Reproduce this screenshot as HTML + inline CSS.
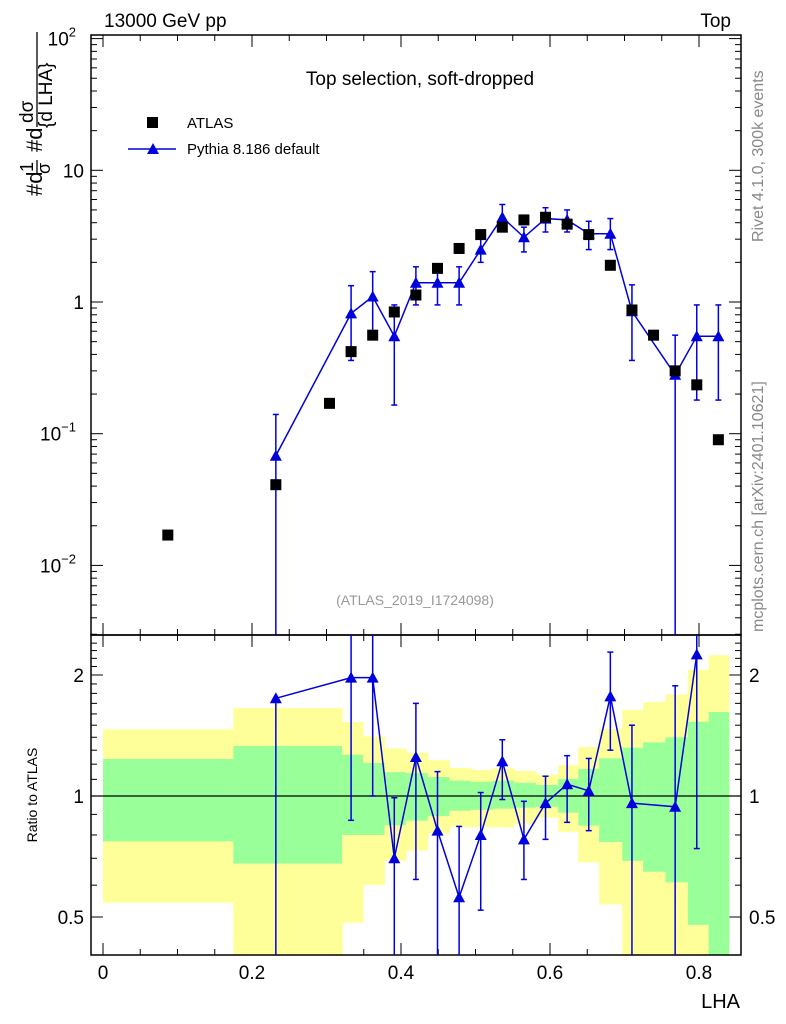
<!DOCTYPE html>
<html><head><meta charset="utf-8">
<style>
html,body{margin:0;padding:0;background:#fff;overflow:hidden;width:786px;height:1024px;}
svg{display:block;font-family:"Liberation Sans",sans-serif;}
</style></head>
<body>
<svg id="chart" width="786" height="1024" viewBox="0 0 786 1024" xmlns="http://www.w3.org/2000/svg">
<text x="104" y="27" font-size="19">13000 GeV pp</text>
<text x="731" y="27" font-size="19" text-anchor="end">Top</text>
<text x="420" y="85" font-size="19" text-anchor="middle">Top selection, soft-dropped</text>
<text x="415" y="605" font-size="14" fill="#999" text-anchor="middle">(ATLAS_2019_I1724098)</text>
<text transform="translate(763,242) rotate(-90)" font-size="16" fill="#888">Rivet 4.1.0,  300k events</text>
<text transform="translate(763,632) rotate(-90)" font-size="16" fill="#888">mcplots.cern.ch [arXiv:2401.10621]</text>
<g>
<text transform="translate(42,196) rotate(-90)" font-size="22">#d</text>
<text transform="translate(33,172) rotate(-90)" font-size="18">1</text>
<line x1="37" y1="173" x2="37" y2="160" stroke="#000" stroke-width="1.3"/>
<text transform="translate(50,174) rotate(-90)" font-size="18">σ</text>
<text transform="translate(42,152) rotate(-90)" font-size="22">#d</text>
<text transform="translate(33,123) rotate(-90)" font-size="19">dσ</text>
<line x1="37" y1="127" x2="37" y2="32" stroke="#000" stroke-width="1.3"/>
<text transform="translate(52,128) rotate(-90)" font-size="19">{d LHA}</text>
</g>
<text transform="translate(37,795) rotate(-90)" font-size="14" text-anchor="middle">Ratio to ATLAS</text>
<text x="740" y="1008" font-size="20" text-anchor="end">LHA</text>
<g>
<rect x="147" y="117" width="11" height="11" fill="#000"/>
<text x="187" y="128" font-size="15">ATLAS</text>
<line x1="128" y1="149" x2="176" y2="149" stroke="#00d" stroke-width="1.5"/>
<polygon points="147,154 159,154 153,143" fill="#00d"/>
<text x="187" y="154" font-size="15">Pythia 8.186 default</text>
</g>
<g id="g-main"></g>
<g id="g-ratio"></g>
</svg>
<script>
const atlasX=[0.087,0.232,0.304,0.333,0.362,0.391,0.42,0.449,0.478,0.507,0.536,0.565,0.594,0.623,0.652,0.681,0.71,0.739,0.768,0.797,0.826];
const atlasY=[0.017,0.041,0.17,0.42,0.56,0.84,1.13,1.8,2.55,3.25,3.7,4.2,4.4,3.9,3.25,1.9,0.87,0.56,0.3,0.235,0.09];
const pyX=[0.232,0.333,0.362,0.391,0.42,0.449,0.478,0.507,0.536,0.565,0.594,0.623,0.652,0.681,0.71,0.768,0.797,0.826];
const pyY=[0.068,0.82,1.1,0.55,1.4,1.4,1.4,2.5,4.4,3.1,4.3,4.2,3.3,3.3,0.85,0.28,0.55,0.55];
const pyLo=[0.001,0.36,0.55,0.165,0.95,0.95,0.95,2.0,3.6,2.4,3.4,3.4,2.5,2.5,0.36,0.001,0.18,0.18];
const pyHi=[0.14,1.33,1.7,0.95,1.85,1.85,1.85,3.0,5.5,3.7,5.2,5.0,4.1,4.3,1.35,0.56,0.95,0.95];
const rX=[0.232,0.333,0.362,0.391,0.42,0.449,0.478,0.507,0.536,0.565,0.594,0.623,0.652,0.681,0.71,0.768,0.797];
const rY=[1.75,1.97,1.97,0.7,1.25,0.82,0.56,0.8,1.22,0.78,0.96,1.07,1.03,1.77,0.96,0.94,2.25];
const rLo=[0.1,0.87,1.0,0.1,0.62,0.4,0.1,0.52,0.98,0.62,0.78,0.86,0.82,1.3,0.1,0.1,0.74];
const rHi=[1.75,3,3,0.99,1.7,1.15,0.84,1.02,1.38,0.97,1.12,1.26,1.24,2.28,1.5,1.88,3];
const bandEdges=[0,0.175,0.321,0.349,0.378,0.407,0.436,0.465,0.494,0.523,0.552,0.581,0.611,0.638,0.666,0.697,0.725,0.755,0.785,0.813,0.84];
const yelHi=[1.465,1.655,1.527,1.407,1.314,1.281,1.227,1.174,1.161,1.172,1.154,1.13,1.194,1.324,1.47,1.636,1.714,1.79,2.06,2.24];
const yelLo=[0.543,0.3,0.484,0.601,0.69,0.731,0.806,0.837,0.837,0.835,0.853,0.883,0.815,0.684,0.537,0.3,0.3,0.3,0.3,0.3];
const grnHi=[1.236,1.332,1.267,1.208,1.146,1.14,1.115,1.092,1.085,1.092,1.079,1.065,1.102,1.167,1.241,1.319,1.36,1.4,1.53,1.617];
const grnLo=[0.771,0.679,0.8,0.8,0.846,0.868,0.892,0.919,0.924,0.93,0.935,0.94,0.909,0.844,0.768,0.69,0.648,0.61,0.478,0.3];
const xTicks=[0,0.2,0.4,0.6,0.8];

const L=91,R=741,T1=35,B1=635,T2=635,B2=955;
const sx=v=>103+745*v;
const sy=v=>302-131.7*Math.log10(v);
const sr=v=>796-402*Math.log10(v);
const NS="http://www.w3.org/2000/svg";
function mk(p,tag,at){const e=document.createElementNS(NS,tag);for(const k in at)e.setAttribute(k,at[k]);p.appendChild(e);return e;}
const gm=document.getElementById('g-main'), gr=document.getElementById('g-ratio');
const defs=mk(document.getElementById('chart'),'defs',{});
const c1=mk(defs,'clipPath',{id:'c1'});mk(c1,'rect',{x:L,y:T1,width:R-L,height:B1-T1});
const c2=mk(defs,'clipPath',{id:'c2'});mk(c2,'rect',{x:L,y:T2,width:R-L,height:B2-T2});
const bands=mk(gr,'g',{'clip-path':'url(#c2)'});
for(let i=0;i<yelHi.length;i++){
 const x0=sx(bandEdges[i]),x1=sx(bandEdges[i+1]);
 const y=mk(bands,'rect',{x:x0,y:sr(yelHi[i]),width:x1-x0+0.5,height:sr(yelLo[i])-sr(yelHi[i]),fill:'#ffff99'});
 
 
 const g=mk(bands,'rect',{x:x0,y:sr(grnHi[i]),width:x1-x0+0.5,height:sr(grnLo[i])-sr(grnHi[i]),fill:'#99ff99'});
 
 
}
mk(gr,'line',{x1:L,x2:R,y1:sr(1),y2:sr(1),stroke:'#000','stroke-width':1.3});
const f1=mk(gm,'rect',{x:L,y:T1,width:R-L,height:B1-T1,fill:'none',stroke:'#000','stroke-width':1.5});


const f2=mk(gr,'rect',{x:L,y:T2,width:R-L,height:B2-T2,fill:'none',stroke:'#000','stroke-width':1.5});


for(let v=0;v<=0.85;v+=0.05){const x=sx(v);const maj=Math.abs(v*5-Math.round(v*5))<1e-6;const len=maj?12:6;
 for(const [t,b] of [[T1,B1],[T2,B2]]){mk(gm,'line',{x1:x,x2:x,y1:b,y2:b-len,stroke:'#000'});mk(gm,'line',{x1:x,x2:x,y1:t,y2:t+len,stroke:'#000'});}}
xTicks.forEach(v=>{const t=mk(gm,'text',{x:sx(v),y:979,'font-size':19,'text-anchor':'middle'});t.textContent=String(v);
 
 });
for(let d=-3;d<=2;d++){for(let m=1;m<10;m++){const v=m*Math.pow(10,d);const y=sy(v);if(y<T1||y>B1)continue;const len=m==1?12:6;
 mk(gm,'line',{x1:L,x2:L+len,y1:y,y2:y,stroke:'#000'});mk(gm,'line',{x1:R,x2:R-len,y1:y,y2:y,stroke:'#000'});}}
[[100,'10','2'],[10,'10',''],[1,'1',''],[0.1,'10','−1'],[0.01,'10','−2']].forEach(([v,b,e])=>{
 const t=mk(gm,'text',{x:e?76:84,y:sy(v)+7,'font-size':19,'text-anchor':'end'});t.textContent=b;
 if(e){const s=mk(t,'tspan',{dy:-9,'font-size':13});s.textContent=e;}
 
 });
for(let v=0.4;v<=2.5;v+=0.1){const y=sr(v);if(y<T2||y>B2)continue;const maj=[0.5,1,2].some(m=>Math.abs(m-v)<1e-6);const len=maj?12:6;
 mk(gm,'line',{x1:L,x2:L+len,y1:y,y2:y,stroke:'#000'});mk(gm,'line',{x1:R,x2:R-len,y1:y,y2:y,stroke:'#000'});}
[[2,'2'],[1,'1'],[0.5,'0.5']].forEach(([v,s])=>{
 for(const [x,a] of [[84,'end'],[749,'start']]){const t=mk(gm,'text',{x:x,y:sr(v)+7,'font-size':19,'text-anchor':a});t.textContent=s;
 
 }});
const mg=mk(gm,'g',{'clip-path':'url(#c1)'});
mk(mg,'polyline',{points:pyX.map((x,i)=>sx(x)+','+sy(pyY[i])).join(' '),fill:'none',stroke:'#00d','stroke-width':1.5});
pyX.forEach((x,i)=>{const X=sx(x);
 mk(mg,'line',{x1:X,x2:X,y1:sy(pyLo[i]),y2:sy(pyHi[i]),stroke:'#00d','stroke-width':1.5});
 for(const v of [pyLo[i],pyHi[i]])mk(mg,'line',{x1:X-3,x2:X+3,y1:sy(v),y2:sy(v),stroke:'#00d','stroke-width':1.5});
 const Y=sy(pyY[i]);const p=mk(mg,'polygon',{points:`${X-6},${Y+5} ${X+6},${Y+5} ${X},${Y-6}`,fill:'#00d'});
 
 });
atlasX.forEach((x,i)=>{const r=mk(mg,'rect',{x:sx(x)-5.5,y:sy(atlasY[i])-5.5,width:11,height:11,fill:'#000'});
 
 });
const rg=mk(gr,'g',{'clip-path':'url(#c2)'});
mk(rg,'polyline',{points:rX.map((x,i)=>sx(x)+','+sr(rY[i])).join(' '),fill:'none',stroke:'#00d','stroke-width':1.5});
rX.forEach((x,i)=>{const X=sx(x);
 mk(rg,'line',{x1:X,x2:X,y1:sr(rLo[i]),y2:sr(rHi[i]),stroke:'#00d','stroke-width':1.5});
 for(const v of [rLo[i],rHi[i]])mk(rg,'line',{x1:X-3,x2:X+3,y1:sr(v),y2:sr(v),stroke:'#00d','stroke-width':1.5});
 const Y=sr(rY[i]);const p=mk(rg,'polygon',{points:`${X-6},${Y+5} ${X+6},${Y+5} ${X},${Y-6}`,fill:'#00d'});
 
 });
</script>
</body></html>
